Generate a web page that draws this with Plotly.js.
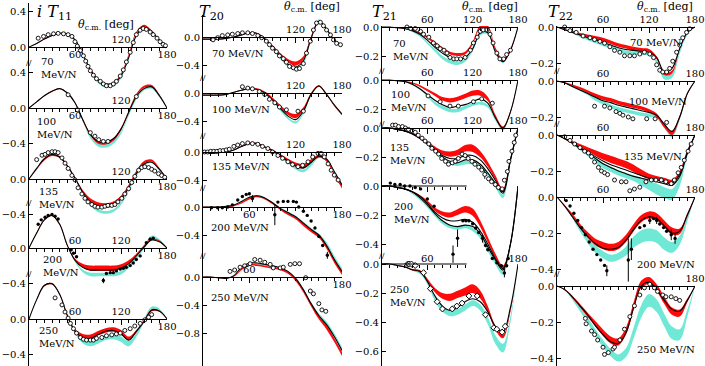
<!DOCTYPE html>
<html><head><meta charset="utf-8">
<script src="https://cdn.plot.ly/plotly-3.0.1.min.js"></script>
<style>html,body{margin:0;padding:0;background:#fff}#chart{width:705px;height:366px}</style>
</head><body><div id="chart"></div>
<script>
// ---------------- DATA ----------------
const ANG = [0,10,20,30,40,50,60,70,80,90,100,110,120,130,140,150,160,170,180];
const ENERGIES = ['70','100','135','200','250'];

// iT11
const T11_black = [
 [0,0.04,0.09,0.13,0.155,0.15,0.08,-0.08,-0.26,-0.38,-0.43,-0.42,-0.33,-0.12,0.13,0.22,0.17,0.08,0],
 [0,0.07,0.14,0.19,0.22,0.17,0.06,-0.13,-0.30,-0.38,-0.39,-0.35,-0.24,-0.05,0.13,0.22,0.24,0.14,0],
 [0,0.12,0.23,0.28,0.25,0.15,0.01,-0.15,-0.26,-0.31,-0.32,-0.30,-0.23,-0.10,0.06,0.17,0.19,0.11,0],
 [0,0.17,0.32,0.37,0.27,0.03,-0.14,-0.22,-0.25,-0.25,-0.25,-0.25,-0.23,-0.18,-0.09,0.01,0.09,0.07,0],
 [0,0.22,0.38,0.40,0.28,0.04,-0.14,-0.21,-0.22,-0.18,-0.14,-0.13,-0.17,-0.24,-0.14,-0.03,0.10,0.09,0]];
const T11_red = [
 [0,0.04,0.09,0.13,0.155,0.15,0.08,-0.07,-0.25,-0.37,-0.42,-0.41,-0.31,-0.09,0.16,0.24,0.18,0.08,0],
 [0,0.07,0.14,0.19,0.22,0.17,0.06,-0.13,-0.30,-0.39,-0.40,-0.36,-0.24,-0.04,0.15,0.24,0.25,0.15,0],
 [0,0.11,0.22,0.27,0.25,0.15,0.01,-0.14,-0.24,-0.29,-0.30,-0.28,-0.21,-0.08,0.08,0.19,0.21,0.12,0],
 [0,0.17,0.32,0.37,0.27,0.03,-0.13,-0.20,-0.23,-0.23,-0.23,-0.23,-0.21,-0.16,-0.08,0.02,0.10,0.08,0],
 [0,0.22,0.38,0.40,0.28,0.04,-0.13,-0.19,-0.20,-0.16,-0.13,-0.12,-0.15,-0.22,-0.14,-0.02,0.10,0.09,0]];
const T11_redW = [
 [0,0.003,0.005,0.005,0.005,0.005,0.005,0.008,0.01,0.01,0.01,0.01,0.01,0.01,0.012,0.012,0.01,0.005,0],
 [0,0.003,0.005,0.005,0.005,0.005,0.006,0.01,0.012,0.015,0.015,0.015,0.015,0.012,0.012,0.012,0.01,0.005,0],
 [0,0.005,0.01,0.01,0.01,0.01,0.01,0.015,0.02,0.025,0.025,0.025,0.02,0.015,0.015,0.015,0.012,0.008,0],
 [0,0.005,0.008,0.008,0.008,0.008,0.01,0.02,0.03,0.03,0.03,0.03,0.025,0.02,0.015,0.012,0.01,0.008,0],
 [0,0.005,0.008,0.008,0.008,0.01,0.015,0.02,0.025,0.025,0.025,0.025,0.025,0.02,0.015,0.012,0.012,0.008,0]];
const T11_cyan = [
 [0,0.04,0.09,0.13,0.155,0.15,0.08,-0.08,-0.27,-0.40,-0.45,-0.44,-0.35,-0.13,0.12,0.21,0.17,0.08,0],
 [0,0.07,0.14,0.19,0.22,0.17,0.06,-0.14,-0.33,-0.42,-0.43,-0.39,-0.28,-0.08,0.11,0.21,0.23,0.13,0],
 [0,0.12,0.23,0.28,0.25,0.15,0.01,-0.16,-0.29,-0.36,-0.38,-0.36,-0.28,-0.13,0.04,0.16,0.19,0.11,0],
 [0,0.17,0.32,0.37,0.27,0.03,-0.15,-0.26,-0.30,-0.30,-0.30,-0.30,-0.28,-0.21,-0.11,0.01,0.12,0.09,0],
 [0,0.22,0.38,0.40,0.28,0.04,-0.15,-0.25,-0.28,-0.25,-0.21,-0.20,-0.23,-0.28,-0.18,-0.02,0.12,0.11,0]];
const T11_cyanW = [
 [0,0.003,0.005,0.005,0.005,0.005,0.005,0.008,0.01,0.01,0.012,0.012,0.01,0.01,0.01,0.01,0.008,0.005,0],
 [0,0.003,0.005,0.005,0.005,0.005,0.006,0.01,0.015,0.018,0.02,0.018,0.015,0.012,0.012,0.012,0.01,0.005,0],
 [0,0.005,0.008,0.008,0.008,0.008,0.01,0.012,0.015,0.015,0.015,0.015,0.015,0.012,0.012,0.012,0.01,0.008,0],
 [0,0.005,0.008,0.008,0.008,0.008,0.01,0.015,0.02,0.02,0.02,0.02,0.02,0.02,0.02,0.02,0.02,0.01,0],
 [0,0.005,0.008,0.008,0.008,0.01,0.015,0.025,0.03,0.03,0.03,0.03,0.03,0.03,0.025,0.02,0.02,0.01,0]];
const T11_ptTheta = [
 [12,19,25,32,38,45,51,56,60,63,67,71,74,77,80,84,88,93,97,101,106,110,114,119,123,127,132,136,140,145,149,153,158,162,167,171,175,178],
 [51,63,80,86,91,97,103,140],
 [10,17,21,25,30,34,38,43,47,51,56,60,64,69,73,77,82,86,90,95,99,103,108,112,116,121,125,130,134,138,143,147,151,156,160,164,169,173,177],
 [12,16,21,25,30,34,38,55,58,62,97,101,106,110,114,119,123,127,132,136,140,145,153,158,162],
 [34,43,47,51,54,58,62,67,71,75,80,84,88,95,101,108,114,119,125,132,138,145,151,156,160]];
const T11_ptVal = [
 [0.10,0.12,0.14,0.15,0.155,0.15,0.14,0.12,0.06,0.01,-0.04,-0.10,-0.16,-0.22,-0.27,-0.32,-0.36,-0.39,-0.42,-0.44,-0.44,-0.42,-0.39,-0.33,-0.26,-0.17,-0.06,0.05,0.14,0.19,0.21,0.20,0.17,0.14,0.10,0.06,0.03,0.015],
 [0.15,-0.02,-0.28,-0.32,-0.36,-0.38,-0.38,0.13],
 [0.22,0.27,0.28,0.30,0.31,0.31,0.30,0.24,0.18,0.12,0.04,-0.01,-0.10,-0.17,-0.22,-0.26,-0.29,-0.31,-0.32,-0.32,-0.31,-0.30,-0.30,-0.29,-0.26,-0.22,-0.17,-0.11,-0.04,0.03,0.10,0.13,0.14,0.13,0.11,0.09,0.06,0.04,0.02],
 [0.27,0.32,0.35,0.37,0.38,0.36,0.33,-0.02,-0.06,-0.10,-0.37,-0.29,-0.28,-0.28,-0.26,-0.24,-0.23,-0.22,-0.20,-0.17,-0.13,-0.09,0.06,0.10,0.11],
 [0.24,0.16,0.08,0.01,-0.05,-0.11,-0.16,-0.21,-0.23,-0.24,-0.24,-0.24,-0.22,-0.21,-0.19,-0.18,-0.17,-0.16,-0.13,-0.11,-0.08,-0.05,-0.01,0.02,0.05]];
const T11_ptErr = [null,null,null,
 [0,0,0,0,0,0,0,0,0,0,0.03,0,0,0,0,0,0,0,0,0,0,0,0,0.02,0],null];

// T20
const T20_black = [
 [-0.03,-0.03,-0.03,-0.02,0.00,0.03,0.06,0.05,-0.03,-0.15,-0.28,-0.39,-0.43,-0.34,-0.02,0.22,0.11,-0.04,-0.13],
 [-0.03,-0.03,-0.03,-0.02,0.01,0.04,0.06,0.05,0.00,-0.10,-0.22,-0.33,-0.38,-0.26,-0.02,0.10,-0.02,-0.17,-0.30],
 [-0.02,-0.02,-0.01,0.00,0.03,0.08,0.12,0.12,0.07,0.02,-0.05,-0.13,-0.20,-0.23,-0.15,-0.06,-0.10,-0.28,-0.47],
 [0,0,0,0.01,0.03,0.08,0.14,0.16,0.13,0.06,-0.02,-0.08,-0.14,-0.23,-0.32,-0.40,-0.55,-0.75,-0.92],
 [0,0,-0.01,-0.02,0.02,0.14,0.20,0.20,0.18,0.16,0.13,0.08,-0.02,-0.18,-0.38,-0.55,-0.68,-0.85,-1.05]];
const T20_red = [
 [-0.03,-0.03,-0.03,-0.02,0.00,0.03,0.06,0.05,-0.02,-0.13,-0.25,-0.34,-0.38,-0.30,0.00,0.22,0.12,-0.04,-0.13],
 [-0.03,-0.03,-0.03,-0.02,0.01,0.04,0.07,0.06,0.01,-0.08,-0.19,-0.29,-0.33,-0.23,-0.01,0.10,-0.02,-0.18,-0.31],
 [-0.02,-0.02,-0.01,0.00,0.03,0.08,0.12,0.12,0.07,0.02,-0.05,-0.12,-0.18,-0.20,-0.13,-0.06,-0.12,-0.32,-0.50],
 [0,0,0,0,0.02,0.06,0.12,0.15,0.12,0.05,-0.03,-0.10,-0.16,-0.25,-0.34,-0.42,-0.57,-0.77,-0.94],
 [0,0,-0.01,-0.02,0.01,0.11,0.17,0.17,0.15,0.13,0.11,0.06,-0.04,-0.20,-0.40,-0.58,-0.72,-0.90,-1.10]];
const T20_redW = [
 [0.005,0.005,0.005,0.005,0.005,0.005,0.005,0.008,0.01,0.015,0.02,0.025,0.03,0.025,0.015,0.012,0.01,0.008,0.008],
 [0.005,0.005,0.005,0.005,0.005,0.005,0.005,0.008,0.01,0.015,0.02,0.025,0.03,0.025,0.015,0.01,0.01,0.01,0.01],
 [0.005,0.005,0.005,0.005,0.005,0.005,0.008,0.01,0.01,0.015,0.02,0.025,0.03,0.03,0.025,0.02,0.02,0.02,0.02],
 [0.005,0.005,0.005,0.005,0.008,0.01,0.012,0.012,0.012,0.012,0.012,0.015,0.015,0.02,0.02,0.02,0.025,0.03,0.03],
 [0.005,0.005,0.005,0.005,0.008,0.01,0.012,0.012,0.012,0.012,0.012,0.015,0.02,0.02,0.02,0.025,0.03,0.03,0.03]];
const T20_cyan = [
 [-0.03,-0.03,-0.03,-0.02,0.00,0.03,0.06,0.05,-0.03,-0.16,-0.30,-0.41,-0.46,-0.37,-0.03,0.24,0.11,-0.05,-0.14],
 [-0.03,-0.03,-0.03,-0.02,0.01,0.04,0.06,0.05,-0.01,-0.11,-0.24,-0.36,-0.42,-0.29,-0.03,0.10,-0.02,-0.17,-0.30],
 [-0.02,-0.02,-0.01,0.00,0.03,0.08,0.12,0.12,0.07,0.02,-0.06,-0.15,-0.23,-0.27,-0.18,-0.07,-0.10,-0.28,-0.47],
 [0,0,0,0.01,0.03,0.08,0.14,0.16,0.13,0.06,-0.02,-0.08,-0.14,-0.23,-0.32,-0.40,-0.53,-0.72,-0.90],
 [0,0,-0.01,-0.02,0.02,0.13,0.19,0.19,0.17,0.15,0.12,0.07,-0.03,-0.19,-0.38,-0.54,-0.66,-0.83,-1.03]];
const T20_cyanW = [
 [0.005,0.005,0.005,0.005,0.005,0.005,0.005,0.008,0.01,0.012,0.015,0.015,0.015,0.015,0.015,0.015,0.01,0.008,0.008],
 [0.005,0.005,0.005,0.005,0.005,0.005,0.005,0.008,0.01,0.012,0.015,0.015,0.015,0.015,0.012,0.01,0.01,0.01,0.01],
 [0.005,0.005,0.005,0.005,0.005,0.005,0.005,0.008,0.01,0.012,0.015,0.015,0.02,0.02,0.02,0.015,0.012,0.012,0.012],
 [0.005,0.005,0.005,0.005,0.005,0.008,0.01,0.01,0.01,0.01,0.012,0.015,0.015,0.02,0.02,0.02,0.025,0.025,0.025],
 [0.005,0.005,0.005,0.005,0.005,0.008,0.01,0.01,0.01,0.01,0.012,0.015,0.015,0.02,0.02,0.02,0.025,0.025,0.025]];
const T20_ptTheta = [
 [13,19,25,32,38,45,51,58,64,71,76,82,86,90,95,99,104,108,112,117,121,125,130,134,139,143,147,152,156,160,165,169,173,178],
 [51,58,64,73,80,86,93,99,108,123,130],
 [2,6,10,14,18,22,26,30,34,40,45,51,58,64,71,77,84,90,97,103,110,116,123,129,136,142,149,153,157,162,166,170,175],
 [11,19,25,32,38,45,51,56,60,64,93,97,104,110,117,121,124,130,135,140,145,150,155,161],
 [35,41,48,54,61,67,74,80,87,91,100,104,113,119,125,133,139,143,150,154,159]];
const T20_ptVal = [
 [-0.04,-0.01,0.02,0.03,0.04,0.05,0.06,0.06,0.05,0.02,-0.01,-0.06,-0.11,-0.16,-0.21,-0.27,-0.31,-0.36,-0.42,-0.44,-0.46,-0.45,-0.38,-0.23,-0.06,0.10,0.20,0.21,0.16,0.10,0.03,-0.04,-0.09,-0.11],
 [0.09,0.07,0.06,0.02,-0.02,-0.09,-0.14,-0.20,-0.24,-0.26,-0.26],
 [0,0,0.01,0.01,0.01,0.02,0.02,0.03,0.04,0.08,0.10,0.12,0.13,0.12,0.11,0.08,0.05,0,-0.05,-0.09,-0.14,-0.18,-0.21,-0.19,-0.14,-0.07,-0.02,-0.02,-0.07,-0.17,-0.26,-0.33,-0.40],
 [-0.01,-0.01,-0.01,0,0.03,0.10,0.15,0.18,0.19,0.12,-0.11,0.07,0.08,0.08,0.08,0.07,0.0,-0.06,-0.12,-0.20,-0.30,-0.42,-0.55,-0.69],
 [0.08,0.10,0.14,0.16,0.19,0.25,0.24,0.21,0.18,0.13,0.13,0.14,0.18,0.19,0.19,-0.01,-0.20,-0.24,-0.38,-0.47,-0.49]];
const T20_ptErr = [null,null,null,
 [0,0,0,0,0,0,0,0,0,0.05,0.15,0,0,0,0,0,0,0,0,0,0,0,0,0.05],null];

// T21
const T21_black = [
 [0,0,-0.005,-0.01,-0.025,-0.05,-0.09,-0.14,-0.18,-0.21,-0.22,-0.21,-0.15,-0.04,-0.04,-0.17,-0.24,-0.16,0],
 [0,0,-0.005,-0.01,-0.03,-0.06,-0.10,-0.14,-0.17,-0.19,-0.18,-0.17,-0.15,-0.13,-0.16,-0.26,-0.33,-0.22,0],
 [0,0,-0.01,-0.02,-0.04,-0.07,-0.11,-0.15,-0.19,-0.21,-0.21,-0.19,-0.19,-0.22,-0.28,-0.36,-0.44,-0.22,0],
 [0,0,-0.01,-0.02,-0.04,-0.07,-0.12,-0.18,-0.22,-0.24,-0.24,-0.23,-0.25,-0.31,-0.40,-0.50,-0.57,-0.40,0],
 [0,0,-0.01,-0.02,-0.04,-0.05,-0.12,-0.22,-0.29,-0.32,-0.30,-0.26,-0.24,-0.26,-0.33,-0.43,-0.47,-0.30,0]];
const T21_black2 = [null,null,
 [0,0,-0.01,-0.02,-0.04,-0.07,-0.11,-0.16,-0.20,-0.23,-0.24,-0.22,-0.22,-0.25,-0.31,-0.38,-0.45,-0.22,0],
 [0,0,-0.01,-0.02,-0.04,-0.08,-0.13,-0.19,-0.24,-0.27,-0.28,-0.27,-0.28,-0.33,-0.42,-0.51,-0.58,-0.40,0],
 null];
const T21_red = [
 [0,0,-0.005,-0.01,-0.02,-0.04,-0.07,-0.11,-0.15,-0.18,-0.19,-0.18,-0.11,0.00,0.00,-0.15,-0.23,-0.16,0],
 [0,0,-0.005,-0.01,-0.02,-0.04,-0.07,-0.10,-0.13,-0.14,-0.13,-0.11,-0.09,-0.09,-0.13,-0.25,-0.33,-0.22,0],
 [0,0,-0.01,-0.02,-0.04,-0.07,-0.10,-0.14,-0.17,-0.18,-0.17,-0.14,-0.14,-0.18,-0.25,-0.34,-0.43,-0.22,0],
 [0,0,-0.01,-0.02,-0.04,-0.07,-0.11,-0.16,-0.19,-0.20,-0.18,-0.16,-0.18,-0.26,-0.37,-0.48,-0.56,-0.40,0],
 [0,0,-0.01,-0.02,-0.04,-0.05,-0.11,-0.18,-0.22,-0.23,-0.21,-0.19,-0.17,-0.21,-0.31,-0.44,-0.50,-0.32,0]];
const T21_redW = [
 [0,0,0.002,0.003,0.005,0.006,0.008,0.01,0.01,0.01,0.01,0.01,0.01,0.01,0.01,0.01,0.01,0.008,0],
 [0,0,0.002,0.003,0.005,0.006,0.008,0.01,0.012,0.015,0.015,0.015,0.018,0.018,0.015,0.012,0.01,0.008,0],
 [0,0,0.002,0.003,0.005,0.008,0.01,0.012,0.015,0.018,0.02,0.022,0.025,0.022,0.018,0.015,0.012,0.01,0],
 [0,0,0.002,0.003,0.005,0.008,0.01,0.012,0.015,0.018,0.02,0.022,0.025,0.022,0.018,0.015,0.012,0.01,0],
 [0,0,0.002,0.003,0.005,0.008,0.01,0.015,0.02,0.025,0.025,0.028,0.03,0.028,0.02,0.015,0.012,0.01,0]];
const T21_cyan = [
 [0,0,-0.005,-0.01,-0.03,-0.06,-0.11,-0.16,-0.21,-0.24,-0.25,-0.23,-0.16,-0.05,-0.04,-0.17,-0.24,-0.16,0],
 [0,0,-0.005,-0.01,-0.03,-0.06,-0.11,-0.16,-0.19,-0.21,-0.21,-0.19,-0.17,-0.16,-0.18,-0.27,-0.34,-0.22,0],
 [0,0,-0.01,-0.02,-0.04,-0.07,-0.11,-0.16,-0.21,-0.24,-0.25,-0.24,-0.24,-0.27,-0.32,-0.40,-0.47,-0.24,0],
 [0,0,-0.01,-0.02,-0.05,-0.09,-0.14,-0.20,-0.25,-0.28,-0.29,-0.28,-0.30,-0.35,-0.44,-0.53,-0.60,-0.42,0],
 [0,0,-0.01,-0.02,-0.04,-0.06,-0.13,-0.24,-0.31,-0.34,-0.33,-0.30,-0.27,-0.30,-0.39,-0.52,-0.58,-0.38,0]];
const T21_cyanW = [
 [0,0,0.002,0.003,0.005,0.006,0.008,0.01,0.012,0.012,0.012,0.01,0.008,0.008,0.008,0.008,0.008,0.006,0],
 [0,0,0.002,0.003,0.005,0.006,0.008,0.01,0.012,0.012,0.012,0.012,0.01,0.01,0.01,0.01,0.01,0.008,0],
 [0,0,0.002,0.003,0.005,0.006,0.008,0.01,0.012,0.012,0.012,0.012,0.012,0.012,0.012,0.012,0.012,0.008,0],
 [0,0,0.002,0.003,0.005,0.006,0.008,0.01,0.012,0.012,0.012,0.012,0.012,0.012,0.012,0.012,0.012,0.008,0],
 [0,0,0.002,0.003,0.005,0.008,0.01,0.015,0.02,0.02,0.02,0.02,0.02,0.02,0.025,0.03,0.03,0.02,0]];
const T21_ptTheta = [
 [33,38,44,51,55,62,68,73,77,82,86,90,95,99,104,110,117,121,126,130,134,139,143,147,152,156,161,165,170],
 [61,77,90,101,121,132,146],
 [14,18,22,27,31,35,40,44,48,53,57,62,66,71,75,79,84,88,93,97,101,106,110,114,119,123,128,132,136,141,145,150,154,159,162,166,168,172,175,177],
 [11,17,24,30,37,44,51,60,69,94,100,107,111,115,120,124,128,133,137,140,146,152,158,162,165,167],
 [34,36,39,44,55,64,73,80,93,99,106,115,126,137,148,152,159,163]];
const T21_ptVal = [
 [0,-0.01,-0.01,-0.03,-0.05,-0.07,-0.11,-0.13,-0.15,-0.16,-0.18,-0.21,-0.22,-0.22,-0.22,-0.21,-0.16,-0.11,-0.07,-0.03,-0.02,-0.02,-0.05,-0.11,-0.18,-0.22,-0.22,-0.19,-0.16],
 [-0.11,-0.15,-0.18,-0.18,-0.15,-0.13,-0.16],
 [0.02,0.02,0.01,0.01,0,-0.01,-0.02,-0.03,-0.05,-0.07,-0.09,-0.11,-0.14,-0.16,-0.18,-0.21,-0.23,-0.25,-0.24,-0.23,-0.21,-0.18,-0.19,-0.21,-0.23,-0.25,-0.27,-0.29,-0.32,-0.35,-0.37,-0.39,-0.41,-0.42,-0.36,-0.30,-0.23,-0.16,-0.10,-0.05],
 [0.02,0.01,0.01,0,0,-0.01,-0.02,-0.09,-0.14,-0.47,-0.36,-0.24,-0.24,-0.24,-0.26,-0.29,-0.32,-0.36,-0.41,-0.44,-0.50,-0.53,-0.55,-0.60,-0.55,-0.50],
 [0,0,0,-0.01,-0.06,-0.17,-0.26,-0.31,-0.31,-0.29,-0.27,-0.22,-0.22,-0.35,-0.44,-0.45,-0.47,-0.43]];
const T21_ptErr = [null,null,
 [0,0,0,0,0,0,0,0,0,0,0,0,0,0,0,0,0,0,0,0,0,0,0,0,0,0,0,0,0.03,0,0,0,0,0,0,0,0,0,0,0],
 [0,0,0,0,0,0,0,0,0,0.06,0.06,0,0,0,0,0,0,0.03,0,0,0,0,0,0.03,0,0],
 [0,0,0,0,0,0,0,0,0,0.015,0,0,0,0.02,0.02,0,0.02,0.02]];

// T22
const T22_black = [
 [0,-0.015,-0.03,-0.045,-0.06,-0.07,-0.085,-0.10,-0.115,-0.125,-0.13,-0.135,-0.14,-0.17,-0.25,-0.23,-0.12,-0.03,0],
 [0,-0.01,-0.03,-0.05,-0.07,-0.09,-0.11,-0.12,-0.135,-0.145,-0.155,-0.165,-0.175,-0.19,-0.24,-0.28,-0.20,-0.07,0],
 [0,-0.02,-0.045,-0.07,-0.095,-0.12,-0.145,-0.165,-0.18,-0.195,-0.21,-0.225,-0.24,-0.25,-0.26,-0.27,-0.22,-0.10,0],
 [0,-0.05,-0.11,-0.17,-0.22,-0.26,-0.285,-0.29,-0.28,-0.24,-0.18,-0.13,-0.11,-0.12,-0.16,-0.20,-0.19,-0.10,0],
 [0,-0.02,-0.06,-0.11,-0.16,-0.22,-0.27,-0.31,-0.32,-0.26,-0.12,0.00,0.02,-0.02,-0.08,-0.13,-0.14,-0.08,0]];
const T22_black2 = [null,null,
 [0,-0.02,-0.045,-0.075,-0.10,-0.13,-0.16,-0.18,-0.20,-0.215,-0.23,-0.24,-0.25,-0.26,-0.27,-0.28,-0.23,-0.10,0],
 null,null];
const T22_red = [
 [0,-0.015,-0.025,-0.04,-0.05,-0.06,-0.07,-0.085,-0.10,-0.11,-0.12,-0.125,-0.13,-0.17,-0.26,-0.25,-0.12,-0.03,0],
 [0,-0.01,-0.025,-0.04,-0.06,-0.08,-0.095,-0.105,-0.12,-0.13,-0.14,-0.15,-0.165,-0.19,-0.25,-0.29,-0.20,-0.07,0],
 [0,-0.02,-0.04,-0.06,-0.08,-0.10,-0.12,-0.135,-0.15,-0.165,-0.185,-0.21,-0.23,-0.24,-0.25,-0.26,-0.21,-0.09,0],
 [0,-0.05,-0.10,-0.16,-0.21,-0.25,-0.27,-0.28,-0.27,-0.23,-0.17,-0.12,-0.10,-0.11,-0.15,-0.19,-0.19,-0.10,0],
 [0,-0.02,-0.06,-0.11,-0.16,-0.21,-0.26,-0.30,-0.31,-0.25,-0.11,0.01,0.03,-0.01,-0.08,-0.14,-0.15,-0.08,0]];
const T22_redW = [
 [0,0.003,0.005,0.006,0.008,0.01,0.01,0.01,0.01,0.01,0.01,0.008,0.008,0.008,0.008,0.008,0.006,0.004,0],
 [0,0.003,0.005,0.006,0.008,0.01,0.01,0.01,0.01,0.01,0.01,0.01,0.01,0.01,0.01,0.01,0.008,0.005,0],
 [0,0.003,0.006,0.01,0.012,0.015,0.018,0.02,0.02,0.02,0.02,0.018,0.015,0.012,0.012,0.012,0.01,0.008,0],
 [0,0.005,0.008,0.012,0.015,0.018,0.02,0.02,0.02,0.02,0.02,0.02,0.02,0.02,0.02,0.02,0.015,0.01,0],
 [0,0.003,0.006,0.01,0.012,0.015,0.018,0.02,0.02,0.02,0.02,0.02,0.02,0.02,0.02,0.02,0.02,0.01,0]];
const T22_cyan = [
 [0,-0.015,-0.03,-0.05,-0.065,-0.08,-0.095,-0.11,-0.13,-0.14,-0.145,-0.145,-0.15,-0.19,-0.28,-0.27,-0.14,-0.04,0],
 [0,-0.01,-0.03,-0.05,-0.07,-0.10,-0.12,-0.14,-0.155,-0.165,-0.175,-0.185,-0.19,-0.20,-0.25,-0.30,-0.21,-0.07,0],
 [0,-0.02,-0.045,-0.075,-0.105,-0.14,-0.17,-0.19,-0.21,-0.225,-0.24,-0.26,-0.28,-0.30,-0.32,-0.33,-0.26,-0.11,0],
 [0,-0.05,-0.11,-0.18,-0.24,-0.29,-0.32,-0.34,-0.33,-0.30,-0.25,-0.22,-0.21,-0.22,-0.26,-0.28,-0.24,-0.12,0],
 [0,-0.02,-0.07,-0.13,-0.19,-0.26,-0.32,-0.37,-0.40,-0.37,-0.26,-0.14,-0.08,-0.11,-0.19,-0.26,-0.27,-0.15,0]];
const T22_cyanW = [
 [0,0.003,0.005,0.006,0.008,0.01,0.01,0.01,0.01,0.01,0.01,0.01,0.01,0.01,0.012,0.012,0.008,0.004,0],
 [0,0.003,0.005,0.006,0.008,0.01,0.01,0.01,0.01,0.01,0.01,0.01,0.01,0.01,0.012,0.012,0.008,0.005,0],
 [0,0.003,0.006,0.01,0.012,0.015,0.015,0.015,0.015,0.015,0.015,0.02,0.025,0.03,0.03,0.03,0.025,0.01,0],
 [0,0.005,0.008,0.012,0.015,0.02,0.02,0.02,0.02,0.025,0.03,0.035,0.035,0.035,0.035,0.03,0.025,0.015,0],
 [0,0.003,0.006,0.01,0.015,0.02,0.02,0.02,0.02,0.025,0.03,0.035,0.035,0.035,0.035,0.035,0.03,0.02,0]];
const T22_ptTheta = [
 [10,17,25,34,43,49,56,62,69,75,82,88,95,101,108,114,121,126,130,134,138,143,147,151,156,160,164,169,173],
 [49,62,69,77,82,86,93,99,117,128,143],
 [10,17,23,30,36,41,45,49,54,58,62,66,75,84,90,95,101,108,116,123,129,136,142,149,153,158,162,166,171,175],
 [12,17,22,27,32,37,42,47,52,57,62,65,93,97,108,114,121,126,130,134,139,143,149,154],
 [37,38,45,49,53,60,62,67,73,75,82,88,95,101,108,114,121,127,131,138,142,149,155,160]];
const T22_ptVal = [
 [0,-0.02,-0.03,-0.05,-0.06,-0.07,-0.08,-0.09,-0.11,-0.13,-0.14,-0.16,-0.16,-0.16,-0.15,-0.14,-0.15,-0.17,-0.21,-0.24,-0.25,-0.25,-0.23,-0.19,-0.14,-0.10,-0.06,-0.03,-0.01],
 [-0.14,-0.14,-0.15,-0.17,-0.18,-0.19,-0.20,-0.21,-0.21,-0.21,-0.23],
 [-0.01,-0.03,-0.05,-0.07,-0.09,-0.10,-0.12,-0.15,-0.18,-0.20,-0.21,-0.22,-0.25,-0.26,-0.26,-0.31,-0.30,-0.29,-0.26,-0.25,-0.25,-0.25,-0.26,-0.27,-0.25,-0.21,-0.18,-0.14,-0.09,-0.05],
 [-0.02,-0.05,-0.09,-0.13,-0.17,-0.21,-0.25,-0.29,-0.32,-0.35,-0.38,-0.41,-0.35,-0.29,-0.17,-0.16,-0.13,-0.12,-0.13,-0.15,-0.17,-0.19,-0.21,-0.23],
 [-0.18,-0.21,-0.25,-0.27,-0.30,-0.34,-0.38,-0.37,-0.35,-0.34,-0.30,-0.24,-0.17,-0.11,-0.05,-0.01,0.01,-0.01,-0.03,-0.05,-0.06,-0.06,-0.07,-0.08]];
const T22_ptErr = [null,null,null,
 [0,0,0,0,0,0,0,0,0,0,0,0.03,0.12,0.06,0,0,0.02,0,0.02,0,0,0,0.03,0.03],null];

// ---------------- LAYOUT GEOMETRY (pixels) ----------------
const W = 705, H = 366;
const FONT = 'DejaVu Serif, Liberation Serif, serif';
const RED = 'rgb(255,10,10)';
const CYAN = 'rgb(112,232,214)';
const GEOM = [
 {L:29, R:167, S:88, Z:[47,108,179,248,319], top:[3,55,140,205,275], bot:[95,155,220,290,366],
  yt:[[0,0.4],[-0.4,0,0.4],[-0.4,0],[-0.4,0],[-0.4,0]], lineEnd:[180,180,180,180,180],
  above:[[120],[120],[120],[60,120],[60,120]], below:[[60,180],[60,180],[180],[180],[180]],
  title:'<i>i T</i><sub>11</sub>', titlePos:[35,0], thetaPos:[106,25], twoLine:true,
  ePos:[[39,54],[35,114],[37,184],[41,252],[37,323]], breaks:[63,203,273]},
 {L:203, R:342, S:70, Z:[37,93,152,207,277], top:[15,80,135,190,255], bot:[85,140,195,280,366],
  yt:[[-0.4,0],[-0.4,0],[-0.4,0],[-0.4,0],[-0.8,-0.4,0]], lineEnd:[180,180,180,180,180],
  above:[[120,180],[120,180],[120,180],[],[60]], below:[[],[],[],[60,180],[180]],
  title:'<i>T</i><sub>20</sub>', titlePos:[197,0], thetaPos:[312,7], twoLine:false,
  ePos:[[210,46],[210,102],[210,159],[209,220],[209,290]], breaks:[77,135,187,255]},
 {L:382, R:518, S:145, Z:[27,80,128,186,264], top:[26,65,115,175,255], bot:[70,135,200,280,366],
  yt:[[-0.2,0],[-0.2,0],[-0.2,0],[-0.4,-0.2,0],[-0.6,-0.4,-0.2,0]], lineEnd:[180,180,180,112,112],
  above:[[60,120,180],[60,120,180],[60,120,180],[60],[60,180]], below:[[],[],[],[],[]],
  title:'<i>T</i><sub>21</sub>', titlePos:[370,0], thetaPos:[490,7], twoLine:true,
  ePos:[[391,36],[389,87],[388,140],[392,199],[388,282]], breaks:[70,123,255]},
 {L:557, R:695, S:180, Z:[27,81,135,197,286], top:[26,70,125,185,270], bot:[85,140,200,300,366],
  yt:[[-0.2,0],[-0.2,0],[-0.2,0],[-0.4,-0.2,0],[-0.4,-0.2,0]], lineEnd:[180,180,180,180,180],
  above:[[60,120,180],[60,180],[60,180],[60,180],[180]], below:[[],[],[],[],[]],
  title:'<i>T</i><sub>22</sub>', titlePos:[546,0], thetaPos:[665,7], twoLine:false,
  ePos:[[628,35],[627,94],[622,149],[635,257],[635,342]], breaks:[70,123,273]}
];

const COLS = [
 {black:T11_black, black2:null, red:T11_red, redW:T11_redW, cyan:T11_cyan, cyanW:T11_cyanW, ptX:T11_ptTheta, ptY:T11_ptVal, ptErr:T11_ptErr},
 {black:T20_black, black2:null, red:T20_red, redW:T20_redW, cyan:T20_cyan, cyanW:T20_cyanW, ptX:T20_ptTheta, ptY:T20_ptVal, ptErr:T20_ptErr},
 {black:T21_black, black2:T21_black2, red:T21_red, redW:T21_redW, cyan:T21_cyan, cyanW:T21_cyanW, ptX:T21_ptTheta, ptY:T21_ptVal, ptErr:T21_ptErr},
 {black:T22_black, black2:T22_black2, red:T22_red, redW:T22_redW, cyan:T22_cyan, cyanW:T22_cyanW, ptX:T22_ptTheta, ptY:T22_ptVal, ptErr:T22_ptErr}
];

const px = v => v / W, py = v => 1 - v / H;
const data = [];
const layout = {
  width: W, height: H, margin: {l:0, r:0, t:0, b:0},
  paper_bgcolor: '#fff', plot_bgcolor: 'rgba(0,0,0,0)',
  showlegend: false, font: {family: FONT, size: 10, color: '#000'},
  annotations: [], shapes: []
};
let extra = 20;
const sub = (a, w) => a.map((v, i) => v - w[i]);
const add = (a, w) => a.map((v, i) => v + w[i]);
const MINOR = [10,20,30,40,50,60,70,80,90,100,110,120,130,140,150,160,170,180];

COLS.forEach((col, c) => {
  const g = GEOM[c];
  for (let p = 0; p < 5; p++) {
    const k = c * 5 + p + 1;
    const xa = 'x' + k, ya = 'y' + k;
    const base = {type: 'scatter', mode: 'lines', xaxis: xa, yaxis: ya, hoverinfo: 'skip', showlegend: false};
    data.push({...base, x: ANG, y: sub(col.cyan[p], col.cyanW[p]), line: {width: 0, shape: 'spline', color: CYAN}});
    data.push({...base, x: ANG, y: add(col.cyan[p], col.cyanW[p]), line: {width: 0, shape: 'spline', color: CYAN}, fill: 'tonexty', fillcolor: CYAN});
    data.push({...base, x: ANG, y: sub(col.red[p], col.redW[p]), line: {width: 0, shape: 'spline', color: RED}});
    data.push({...base, x: ANG, y: add(col.red[p], col.redW[p]), line: {width: 0, shape: 'spline', color: RED}, fill: 'tonexty', fillcolor: RED});
    data.push({...base, x: ANG, y: col.black[p], line: {width: 1.1, shape: 'spline', color: '#000'}});
    if (col.black2 && col.black2[p]) {
      data.push({...base, x: ANG, y: col.black2[p], line: {width: 1.1, shape: 'spline', color: '#000'}});
    }
    let marker;
    if (p === 3) marker = {symbol: 'circle', size: 3.4, color: '#000'};
    else if (c === 2 && p === 4) marker = {symbol: 'diamond', size: 4.6, color: '#fff', line: {color: '#000', width: 1}};
    else marker = {symbol: 'circle', size: 4, color: '#fff', line: {color: '#000', width: 0.9}};
    const pt = {type: 'scatter', mode: 'markers', xaxis: xa, yaxis: ya, x: col.ptX[p], y: col.ptY[p],
      marker: marker, hoverinfo: 'skip', showlegend: false, cliponaxis: false};
    if (col.ptErr && col.ptErr[p]) {
      pt.error_y = {type: 'data', array: col.ptErr[p], visible: true, thickness: 1, width: 0, color: '#000'};
    }
    data.push(pt);

    const Z = g.Z[p];
    const yr = [-(g.bot[p] - Z) / g.S, (Z - g.top[p]) / g.S];
    const pos = py(Z);
    const end = g.lineEnd[p];
    const full = end >= 180;
    const labelsAbove = g.above[p];
    layout['xaxis' + k] = {
      domain: [px(g.L), px(g.R)], range: [0, 180], anchor: 'free', position: pos, side: 'top',
      showline: full, linecolor: '#000', linewidth: 1,
      ticks: 'inside', ticklen: 5, tickwidth: 1, tickcolor: '#000',
      tickmode: 'array', tickvals: labelsAbove.filter(v => v <= end),
      ticktext: labelsAbove.filter(v => v <= end).map(String),
      showticklabels: true,
      minor: {tickmode: 'array', tickvals: MINOR.filter(v => v <= end), ticklen: 3, ticks: 'inside', tickcolor: '#000', tickwidth: 1},
      showgrid: false, zeroline: false, tickfont: {family: FONT, size: 10, color: '#000'}, fixedrange: true
    };
    if (!full) {
      layout.shapes.push({type: 'line', xref: xa, yref: ya, x0: 0, x1: end, y0: 0, y1: 0,
        line: {color: '#000', width: 1}, layer: 'above'});
    }
    // labels above but beyond the drawn line: show them on an overlay axis (no ticks)
    const beyond = labelsAbove.filter(v => v > end);
    const belowSet = g.below[p];
    if (belowSet.length || beyond.length) {
      if (belowSet.length) {
        extra++;
        layout['xaxis' + extra] = {
          overlaying: xa, anchor: 'free', position: pos, side: 'bottom', range: [0, 180],
          showline: false, ticks: '', tickmode: 'array', tickvals: belowSet,
          ticktext: belowSet.map(String), showgrid: false, zeroline: false,
          tickfont: {family: FONT, size: 10, color: '#000'}, fixedrange: true
        };
        data.push({type: 'scatter', mode: 'markers', x: [], y: [], xaxis: 'x' + extra, yaxis: ya, hoverinfo: 'skip', showlegend: false});
      }
      if (beyond.length) {
        extra++;
        layout['xaxis' + extra] = {
          overlaying: xa, anchor: 'free', position: pos, side: 'top', range: [0, 180],
          showline: false, ticks: '', tickmode: 'array', tickvals: beyond,
          ticktext: beyond.map(String), showgrid: false, zeroline: false,
          tickfont: {family: FONT, size: 10, color: '#000'}, fixedrange: true
        };
        data.push({type: 'scatter', mode: 'markers', x: [], y: [], xaxis: 'x' + extra, yaxis: ya, hoverinfo: 'skip', showlegend: false});
      }
    }
    layout['yaxis' + k] = {
      domain: [py(g.bot[p]), py(g.top[p])], range: yr, anchor: xa,
      showline: true, linecolor: '#000', linewidth: 1,
      ticks: 'inside', ticklen: 4, tickwidth: 1, tickcolor: '#000',
      tickmode: 'array', tickvals: g.yt[p], tickformat: '.1f',
      showgrid: false, zeroline: false, tickfont: {family: FONT, size: 10, color: '#000'}, fixedrange: true
    };
    // energy label
    const e = ENERGIES[p];
    layout.annotations.push({
      xref: 'paper', yref: 'paper', x: px(g.ePos[p][0]), y: py(g.ePos[p][1]), xanchor: 'left', yanchor: 'top',
      text: g.twoLine ? e + '<br>MeV/N' : e + ' MeV/N', align: 'left', showarrow: false,
      font: {family: FONT, size: 10, color: '#000'}
    });
  }
  layout.annotations.push({xref: 'paper', yref: 'paper', x: px(g.titlePos[0]), y: py(g.titlePos[1]),
    xanchor: 'left', yanchor: 'top', text: g.title, showarrow: false, font: {family: FONT, size: 16, color: '#000'}});
  layout.annotations.push({xref: 'paper', yref: 'paper', x: px(g.thetaPos[0]), y: py(g.thetaPos[1]),
    xanchor: 'center', yanchor: 'middle', text: '<i>θ</i><sub>c.m.</sub> [deg]', showarrow: false,
    font: {family: FONT, size: 11, color: '#000'}});
  g.breaks.forEach(b => layout.annotations.push({xref: 'paper', yref: 'paper', x: px(g.L), y: py(b),
    xanchor: 'center', yanchor: 'middle', text: '//', showarrow: false, font: {family: FONT, size: 8, color: '#000'}}));
});

Plotly.newPlot('chart', data, layout, {staticPlot: true, displayModeBar: false});
</script>
</body></html>
